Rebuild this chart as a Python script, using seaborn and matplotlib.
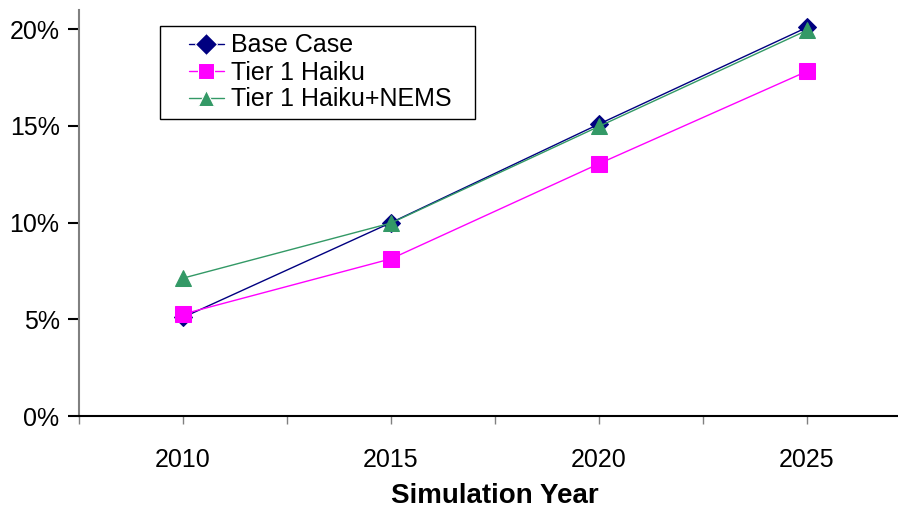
import matplotlib
matplotlib.use("Agg")
import matplotlib.pyplot as plt
import seaborn as sns
import pandas as pd
from matplotlib.ticker import PercentFormatter, MultipleLocator, FixedLocator
from matplotlib.legend_handler import HandlerLine2D

years = [2010, 2015, 2020, 2025]
base_case = [0.051, 0.100, 0.151, 0.201]
tier1_haiku = [0.0527, 0.0813, 0.1305, 0.1783]
tier1_nems = [0.0713, 0.0998, 0.1498, 0.1995]
series_names = ["Base Case", "Tier 1 Haiku", "Tier 1 Haiku+NEMS"]
colors = ["#000080", "#FF00FF", "#339966"]
markers = ["D", "s", "^"]

df = pd.DataFrame({
    "year": years * 3,
    "value": base_case + tier1_haiku + tier1_nems,
    "series": [series_names[0]] * 4 + [series_names[1]] * 4 + [series_names[2]] * 4,
})

sns.set_theme(style="white")
plt.rcParams["font.family"] = ["Liberation Sans", "DejaVu Sans"]
plt.rcParams["text.color"] = "black"

fig = plt.figure(figsize=(8.98, 5.08), dpi=100)
ax = fig.add_axes([79 / 898, 92 / 508, 832 / 898, 406 / 508])

sns.lineplot(
    data=df, x="year", y="value", hue="series", style="series",
    hue_order=series_names, style_order=series_names,
    palette=dict(zip(series_names, colors)),
    markers=dict(zip(series_names, markers)), dashes=False,
    markersize=11, linewidth=1.0, ax=ax, legend=True,
)
for line, c, m in zip(ax.get_lines(), colors, markers):
    line.set_markeredgecolor(c)
    line.set_markerfacecolor(c)
    if m == "D":
        line.set_markersize(9)
    elif m == "^":
        line.set_markersize(12)

ax.set_xlim(2007.5, 2027.5)
ax.set_ylim(0, 0.21)
ax.xaxis.set_major_locator(FixedLocator(years))
ax.xaxis.set_minor_locator(FixedLocator([2007.5, 2012.5, 2017.5, 2022.5, 2027.5]))
ax.yaxis.set_major_locator(MultipleLocator(0.05))
ax.yaxis.set_major_formatter(PercentFormatter(1.0, decimals=0))

for s in ["top", "right"]:
    ax.spines[s].set_visible(False)
ax.spines["left"].set_color("#808080")
ax.spines["left"].set_linewidth(1.5)
ax.spines["bottom"].set_color("black")
ax.spines["bottom"].set_linewidth(1.5)

ax.tick_params(axis="y", which="major", direction="out", length=8, width=1.5,
               color="black", labelsize=18, labelcolor="black", pad=6, left=True)
ax.tick_params(axis="x", which="both", direction="out", length=6, width=1,
               color="#808080", labelsize=18, labelcolor="black", pad=17, bottom=True)

ax.set_xlabel("Simulation Year", fontsize=20, fontweight="bold", labelpad=8, color="black")
ax.set_ylabel("")

handles, labels = ax.get_legend_handles_labels()
leg = ax.legend(
    handles, labels,
    loc="upper left",
    bbox_to_anchor=(81 / 832, (416 - 26) / 406, 315 / 832, 0.0),
    mode="expand", borderaxespad=0, fontsize=18,
    frameon=True, fancybox=False, edgecolor="black", framealpha=1,
    handlelength=2.25, handletextpad=0.3, labelspacing=0.12, borderpad=0.3,
    handler_map={h: HandlerLine2D(numpoints=1, xpad=0.85) for h in handles},
)
leg.get_frame().set_linewidth(1.0)
for t in leg.get_texts():
    t.set_color("black")

fig.savefig("out.png", dpi=100)
